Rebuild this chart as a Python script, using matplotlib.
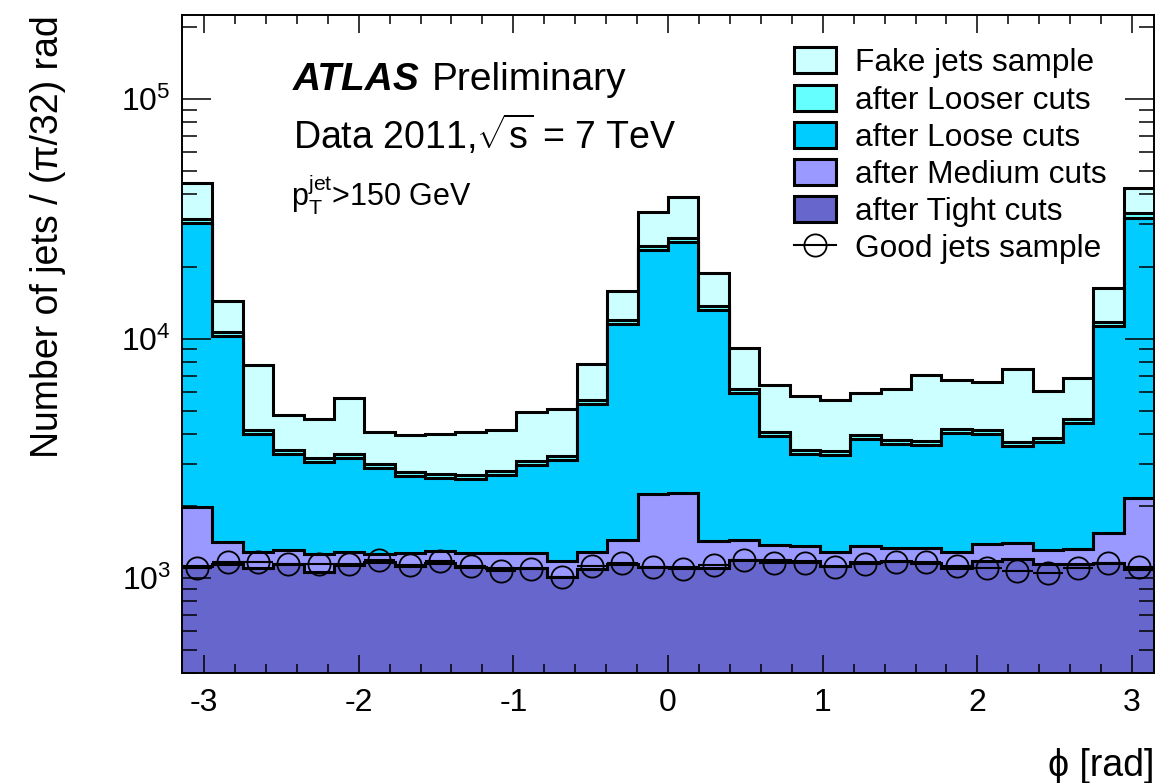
import numpy as np
import matplotlib
matplotlib.use("Agg")
import matplotlib.pyplot as plt
from matplotlib.patches import Patch
from matplotlib.lines import Line2D
from matplotlib.ticker import MultipleLocator, LogLocator

plt.rcParams['font.family'] = ['Liberation Sans', 'DejaVu Sans']
plt.rcParams['mathtext.fontset'] = 'custom'
plt.rcParams['mathtext.rm'] = 'Liberation Sans'
plt.rcParams['mathtext.it'] = 'Liberation Sans:italic'
plt.rcParams['mathtext.bf'] = 'Liberation Sans:bold'
plt.rcParams['axes.unicode_minus'] = False

# 32 bins in phi
edges = np.linspace(-np.pi, np.pi, 33)
centers = 0.5 * (edges[:-1] + edges[1:])

fake = [44600, 14350, 7750, 4790, 4610, 5640, 4070, 3955, 3990, 4070, 4150, 4930,
        5080, 7830, 15790, 33740, 38990, 18770, 9125, 6400, 5754, 5535, 5920, 6155,
        7040, 6710, 6580, 7460, 6040, 6840, 16250, 42500]
looser = [31600, 10650, 4150, 3430, 3170, 3300, 3000, 2770, 2720, 2690, 2800, 3080,
          3230, 5540, 11950, 24350, 26300, 13680, 6160, 4070, 3430, 3390, 3960, 3770,
          3740, 4190, 4150, 3700, 3850, 4610, 11730, 33600]
loose = [30400, 10240, 3990, 3295, 3050, 3170, 2880, 2667, 2615, 2590, 2692, 2963,
         3110, 5330, 11500, 23420, 25290, 13150, 5920, 3916, 3295, 3264, 3804, 3625,
         3592, 4030, 3990, 3557, 3697, 4437, 11280, 32000]
medium = [1980, 1413, 1284, 1309, 1259, 1284, 1262, 1272, 1296, 1272, 1272, 1272,
          1178, 1284, 1441, 2242, 2264, 1427, 1441, 1373, 1360, 1284, 1360, 1335,
          1335, 1284, 1387, 1400, 1309, 1321, 1542, 2158]
tight = [1122, 1144, 1101, 1144, 1059, 1133, 1166, 1122, 1155, 1111, 1101, 1101,
         1010, 1090, 1144, 1111, 1111, 1101, 1189, 1189, 1178, 1122, 1166, 1178,
         1155, 1101, 1178, 1200, 1144, 1144, 1155, 1090]
good = [1101, 1166, 1166, 1144, 1144, 1144, 1189, 1133, 1178, 1122, 1070, 1090,
        1010, 1122, 1155, 1111, 1090, 1133, 1189, 1155, 1155, 1111, 1144, 1166,
        1166, 1122, 1101, 1070, 1049, 1101, 1155, 1111]

layers = [(fake, '#ccffff', 'Fake jets sample'),
          (looser, '#66ffff', 'after Looser cuts'),
          (loose, '#00ccff', 'after Loose cuts'),
          (medium, '#9999ff', 'after Medium cuts'),
          (tight, '#6666cc', 'after Tight cuts')]

fig = plt.figure(figsize=(11.76, 7.83), dpi=100)
ax = fig.add_axes([0.1548, 0.1405, 0.8265, 0.8403])
ax.set_yscale('log')

handles = []
for vals, col, lab in layers:
    ax.stairs(vals, edges, baseline=1, fill=True, facecolor=col, edgecolor='none')
    ax.stairs(vals, edges, baseline=None, color='black', linewidth=2.2)
    handles.append(Patch(facecolor=col, edgecolor='black', linewidth=2.2, label=lab))

ax.errorbar(centers, good, xerr=(edges[1] - edges[0]) / 2, fmt='o', mfc='none',
            mec='black', mew=1.3, ms=16, ecolor='black', elinewidth=1.5, capsize=0)
handles.append(Line2D([], [], color='black', marker='o', mfc='none', mec='black',
                      mew=1.3, ms=16, lw=1.5, label='Good jets sample'))

ax.set_xlim(-np.pi, np.pi)
ax.set_ylim(400, 2.25e5)

ax.xaxis.set_major_locator(MultipleLocator(1))
ax.xaxis.set_minor_locator(MultipleLocator(0.2))
ax.yaxis.set_major_locator(LogLocator(base=10))
ax.yaxis.set_minor_locator(LogLocator(base=10, subs=np.arange(2, 10)))
ax.tick_params(which='both', direction='in', top=True, right=True, width=1.1,
               labelsize=23)
ax.tick_params(axis='x', which='major', length=13, pad=11)
ax.tick_params(axis='x', which='minor', length=6.5)
ax.tick_params(axis='y', which='major', length=21, pad=8)
ax.tick_params(axis='y', which='minor', length=11)
for s in ax.spines.values():
    s.set_linewidth(1.4)

ax.set_ylabel('Number of jets / (π/32) rad', fontsize=27, ha='right')
ax.yaxis.set_label_coords(-0.119, 1.0)
ax.set_xlabel('ϕ [rad]', fontsize=27, ha='right', va='center')
ax.xaxis.set_label_coords(1.0, -0.142)

ax.text(0.114, 0.886, 'ATLAS', transform=ax.transAxes, fontsize=28,
        fontweight='bold', fontstyle='italic', va='baseline')
ax.text(0.257, 0.886, 'Preliminary', transform=ax.transAxes, fontsize=28,
        va='baseline')
ax.text(0.114, 0.797, r'Data 2011,$\sqrt{\mathrm{s}}$ = 7 TeV', transform=ax.transAxes,
        fontsize=27, va='baseline')
ax.text(0.112, 0.709, r'$\mathrm{p}_{\mathrm{T}}^{\mathrm{jet}}$>150 GeV',
        transform=ax.transAxes, fontsize=22, va='baseline')

ax.legend(handles=handles, loc='upper left', bbox_to_anchor=(0.617, 0.97),
          frameon=False, fontsize=22.8, handlelength=1.3, handleheight=0.88,
          handletextpad=0.6, labelspacing=0.2, borderaxespad=0)

fig.savefig('out.png', dpi=100)
